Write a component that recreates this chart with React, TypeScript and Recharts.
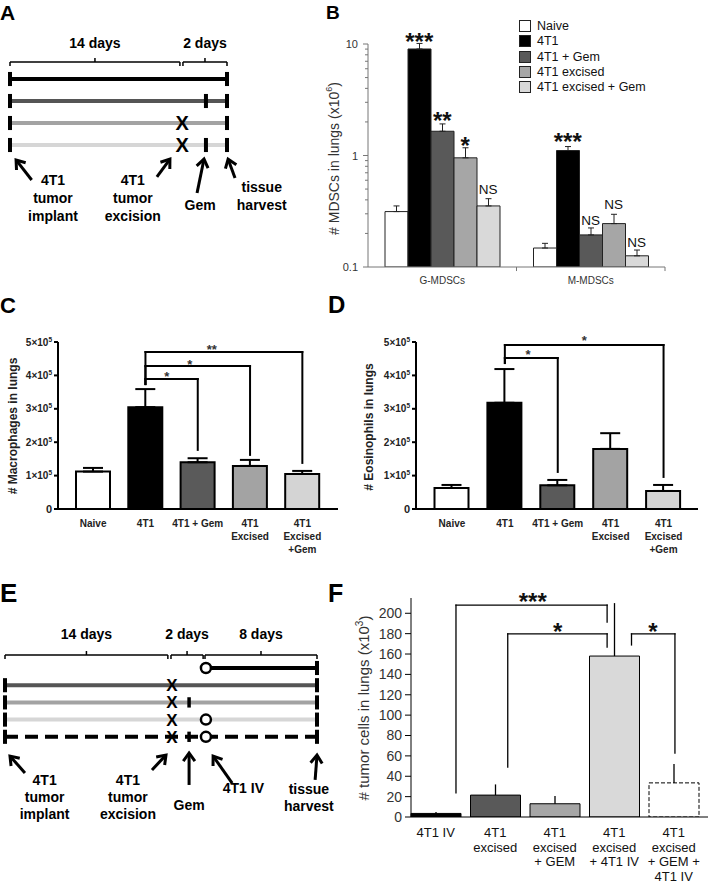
import React from 'react';
import { ComposedChart, Bar, XAxis, YAxis, ErrorBar, Cell, ReferenceLine, ReferenceDot, Legend } from 'recharts';

const FONT = '"Liberation Sans", Arial, Helvetica, sans-serif';

// ================= Panel A (treatment schematic) =================
const A_GROUPS = ['4T1', '4T1 + Gem', '4T1 excised', '4T1 excised + Gem'];
// position of each event along the drawn timeline (0 = implant, 100 = harvest)
const A_EVENT_POS: Record<string, number> = { implant: 0, excision: 79.3, gem: 90.3, harvest: 100 };
const A_GROUP_EVENTS = [
  ['implant', 'harvest'],
  ['implant', 'gem', 'harvest'],
  ['implant', 'excision', 'harvest'],
  ['implant', 'excision', 'gem', 'harvest'],
];
const A_SPANS = [
  { label: '14 days', from: 0, to: 78.3 },
  { label: '2 days', from: 79.7, to: 100 },
];
const A_NOTES = [
  { lines: ['4T1', 'tumor', 'implant'], at: 19.8, row: 5.82 },
  { lines: ['4T1', 'tumor', 'excision'], at: 56.6, row: 5.82 },
  { lines: ['Gem'], at: 87.6, row: 6.95 },
  { lines: ['tissue', 'harvest'], at: 116, row: 6.14 },
];
const A_ARROWS = [
  { from: [10.0, 5.59], to: [2.8, 4.68] },
  { from: [67.7, 5.45], to: [73.7, 4.64] },
  { from: [86.2, 6.18], to: [89.4, 4.64] },
  { from: [103.7, 5.5], to: [100.5, 4.64] },
];

// ================= Panel B =================
const B_CATEGORIES = ['G-MDSCs', 'M-MDSCs'];
const B_GROUPS = ['Naive', '4T1', '4T1 + Gem', '4T1 excised', '4T1 excised + Gem'];
const B_NAIVE = [0.314, 0.148];
const B_4T1 = [9.02, 1.108];
const B_4T1_GEM = [1.65, 0.194];
const B_EXCISED = [0.953, 0.245];
const B_EXCISED_GEM = [0.353, 0.126];
const B_NAIVE_ERR = [0.039, 0.015];
const B_4T1_ERR = [1.1, 0.095];
const B_4T1_GEM_ERR = [0.27, 0.03];
const B_EXCISED_ERR = [0.22, 0.052];
const B_EXCISED_GEM_ERR = [0.057, 0.016];
const B_TICKS = [0.1, 0.2, 0.3, 0.4, 0.5, 0.6, 0.7, 0.8, 0.9, 1, 2, 3, 4, 5, 6, 7, 8, 9, 10];
const B_MAJOR = [0.1, 1, 10];
const B_SIG = [
  { cat: 0, bar: 1, text: '***', y: 11.67 },
  { cat: 0, bar: 2, text: '**', y: 2.32 },
  { cat: 0, bar: 3, text: '*', y: 1.375 },
  { cat: 0, bar: 4, text: 'NS', y: 0.497 },
  { cat: 1, bar: 1, text: '***', y: 1.478 },
  { cat: 1, bar: 2, text: 'NS', y: 0.2655 },
  { cat: 1, bar: 3, text: 'NS', y: 0.365 },
  { cat: 1, bar: 4, text: 'NS', y: 0.167 },
];

// ================= Panel C =================
const C_KEYS = ['Naive', '4T1', '4T1 + Gem', '4T1 Excised', '4T1 Excised + Gem'];
const C_TICK_LINES = [['Naive'], ['4T1'], ['4T1 + Gem'], ['4T1', 'Excised'], ['4T1', 'Excised', '+Gem']];
const C_MEAN = [1.12e5, 3.05e5, 1.4e5, 1.29e5, 1.05e5];
const C_SEM = [0.11e5, 0.54e5, 0.12e5, 0.18e5, 0.09e5];
const C_BRACKETS = [
  { from: 1.5, to: 4.5, y: 4.7e5, fromEnd: 3.74e5, toEnd: 1.38e5, label: '**', labelAt: 2.77, labelY: 4.85e5 },
  { from: 1.5, to: 3.5, y: 4.28e5, fromEnd: 3.74e5, toEnd: 1.62e5, label: '*', labelAt: 2.35, labelY: 4.43e5 },
  { from: 1.5, to: 2.5, y: 3.89e5, fromEnd: 3.74e5, toEnd: 1.77e5, label: '*', labelAt: 1.91, labelY: 4.07e5 },
];

// ================= Panel D =================
const D_KEYS = C_KEYS;
const D_TICK_LINES = C_TICK_LINES;
const D_MEAN = [0.63e5, 3.18e5, 0.71e5, 1.8e5, 0.54e5];
const D_SEM = [0.09e5, 1.01e5, 0.16e5, 0.47e5, 0.18e5];
const D_BRACKETS = [
  { from: 1.5, to: 4.5, y: 4.91e5, fromEnd: 4.37e5, toEnd: 0.96e5, label: '*', labelAt: 3.0, labelY: 5.12e5 },
  { from: 1.5, to: 2.5, y: 4.52e5, fromEnd: 4.37e5, toEnd: 1.11e5, label: '*', labelAt: 1.94, labelY: 4.7e5 },
];
const CD_TICKS = [0, 1e5, 2e5, 3e5, 4e5, 5e5];

// ================= Panel E (schematic) =================
const E_GROUPS = ['4T1 IV', '4T1 excised', '4T1 excised + GEM', '4T1 excised + 4T1 IV', '4T1 excised + GEM + 4T1 IV'];
const E_EVENT_POS: Record<string, number> = { implant: 0, excision: 53.5, gem: 59.0, iv: 64.4, harvest: 100 };
const E_GROUP_EVENTS = [
  ['iv', 'harvest'],
  ['implant', 'excision', 'harvest'],
  ['implant', 'excision', 'gem', 'harvest'],
  ['implant', 'excision', 'iv', 'harvest'],
  ['implant', 'excision', 'gem', 'iv', 'harvest'],
];
const E_SPANS = [
  { label: '14 days', from: 0, to: 52.2 },
  { label: '2 days', from: 53.2, to: 63.5 },
  { label: '8 days', from: 64.1, to: 100 },
];
const E_NOTES = [
  { lines: ['4T1', 'tumor', 'implant'], at: 12.7, row: 6.8 },
  { lines: ['4T1', 'tumor', 'excision'], at: 39.4, row: 6.8 },
  { lines: ['Gem'], at: 59.0, row: 8.26 },
  { lines: ['4T1 IV'], at: 76.4, row: 7.27 },
  { lines: ['tissue', 'harvest'], at: 97.4, row: 7.33 },
];
const E_ARROWS = [
  { from: [6.4, 6.1], to: [1.6, 5.12] },
  { from: [47.1, 5.93], to: [51.6, 5.06] },
  { from: [59.0, 6.8], to: [59.0, 4.94] },
  { from: [72.8, 6.69], to: [66.7, 5.12] },
  { from: [99.4, 6.51], to: [100, 5.06] },
];

// ================= Panel F =================
const F_KEYS = ['4T1 IV', '4T1 excised', '4T1 excised + GEM', '4T1 excised + 4T1 IV', '4T1 excised + GEM + 4T1 IV'];
const F_TICK_LINES = [['4T1 IV'], ['4T1', 'excised'], ['4T1', 'excised', '+ GEM'], ['4T1', 'excised', '+ 4T1 IV'], ['4T1', 'excised', '+ GEM +', '4T1 IV']];
const F_MEAN = [3.5, 21.5, 13, 158, 33.5];
const F_SEM = [1.5, 10.5, 7.5, 52, 18.5];
const F_TICKS = [0, 20, 40, 60, 80, 100, 120, 140, 160, 180, 200];
const F_BRACKETS = [
  { from: 0.84, to: 3.38, y: 208.1, fromEnd: 23.6, toEnd: 191.4, label: '***', labelAt: 2.13, labelY: 217 },
  { from: 1.71, to: 3.38, y: 179.7, fromEnd: 49.1, toEnd: 166.9, label: '*', labelAt: 2.55, labelY: 187.5 },
  { from: 3.79, to: 4.52, y: 179.7, fromEnd: 168.9, toEnd: 62.8, label: '*', labelAt: 4.15, labelY: 187.5 },
];

// ================= Styles =================
const A_ROW_COLORS = ['#000000', '#555555', '#a3a3a3', '#d6d6d6'];
const E_ROW_COLORS = ['#000000', '#555555', '#a3a3a3', '#d6d6d6', '#000000'];
const E_ROW_DASH = [undefined, undefined, undefined, undefined, '13 7'];
const B_FILLS = ['#ffffff', '#000000', '#595959', '#a6a6a6', '#d9d9d9'];
const CD_FILLS = ['#ffffff', '#000000', '#5a5a5a', '#a3a3a3', '#d4d4d4'];
const F_FILLS = ['#000000', '#595959', '#a6a6a6', '#d9d9d9', '#ffffff'];

const PANEL_LETTERS = [
  { t: 'A', x: 0, y: 19.5, s: 21 },
  { t: 'B', x: 326, y: 18.5, s: 19 },
  { t: 'C', x: 0, y: 313, s: 22 },
  { t: 'D', x: 328, y: 313, s: 24 },
  { t: 'E', x: 0, y: 602, s: 26 },
  { t: 'F', x: 328, y: 602, s: 25 },
];

// ================= Helpers =================
const linesShape = (lines: string[], fs: number, lh: number, weight: any = 'bold') => (p: any) => (
  <text x={p.cx} y={p.cy} textAnchor="middle" fontFamily={FONT} fontSize={fs} fontWeight={weight} fill="#000">
    {lines.map((l, i) => (
      <tspan key={i} x={p.cx} dy={i === 0 ? 0 : lh}>{l}</tspan>
    ))}
  </text>
);

const xShape = (fs: number) => (p: any) => (
  <text x={p.cx} y={p.cy + fs * 0.358} textAnchor="middle" fontFamily={FONT} fontSize={fs} fontWeight="bold" fill="#000">X</text>
);

const sigShape = (txt: string, fs: number, weight: any, fill: string) => (p: any) => {
  const star = txt.indexOf('*') >= 0;
  return (
    <text x={p.cx} y={p.cy + fs * (star ? 0.575 : 0.358)} textAnchor="middle" fontFamily={FONT} fontSize={fs} fontWeight={weight} fill={fill}>
      {txt}
    </text>
  );
};

const arrowShape = (p: any) => {
  const { x1, y1, x2, y2 } = p;
  const ang = Math.atan2(y2 - y1, x2 - x1);
  const L = 10;
  const s = 0.62;
  const ax = x2 - L * Math.cos(ang - s);
  const ay = y2 - L * Math.sin(ang - s);
  const bx = x2 - L * Math.cos(ang + s);
  const by = y2 - L * Math.sin(ang + s);
  const ex = x2 - 1.5 * Math.cos(ang);
  const ey = y2 - 1.5 * Math.sin(ang);
  return (
    <g>
      <line x1={x1} y1={y1} x2={ex} y2={ey} stroke="#000" strokeWidth={3} />
      <polyline points={`${ax},${ay} ${x2},${y2} ${bx},${by}`} fill="none" stroke="#000" strokeWidth={3} strokeLinejoin="miter" />
    </g>
  );
};

const vLabel = (cx: number, cy: number, fs: number, weight: any, fill: string, content: React.ReactNode) => () => (
  <text x={cx} y={cy} transform={`rotate(-90 ${cx} ${cy})`} textAnchor="middle" dominantBaseline="central" fontFamily={FONT} fontSize={fs} fontWeight={weight} fill={fill}>
    {content}
  </text>
);

const linesTick = (keys: string[], lines: string[][], fs: number, weight: any, dy: number, lh: number, fill: string) => (p: any) => {
  const idx = keys.indexOf(p.payload.value);
  const ls = lines[idx] || [String(p.payload.value)];
  return (
    <text x={p.x} y={p.y + dy} textAnchor="middle" fontFamily={FONT} fontSize={fs} fontWeight={weight} fill={fill}>
      {ls.map((l, i) => (
        <tspan key={i} x={p.x} dy={i === 0 ? 0 : lh}>{l}</tspan>
      ))}
    </text>
  );
};

const SciTick = (p: any) => {
  const m = Math.round(p.payload.value / 1e5);
  return (
    <text x={p.x} y={p.y + 3.6} textAnchor="end" fontFamily={FONT} fontSize={m === 0 ? 11 : 10} fontWeight="bold" fill="#222">
      {m === 0 ? '0' : `${m}×10`}
      {m === 0 ? null : <tspan dy={-4} fontSize={6.5}>5</tspan>}
    </text>
  );
};

const BYTick = (p: any) => {
  const v = p.payload.value;
  const major = B_MAJOR.some((m) => Math.abs(m - v) < 1e-9);
  return (
    <g>
      <line x1={p.x} x2={p.x - (major ? 5 : 3)} y1={p.y} y2={p.y} stroke="#777" strokeWidth={1} />
      {major ? (
        <text x={p.x - 10} y={p.y + 4} textAnchor="end" fontFamily={FONT} fontSize={11} fill="#333">{String(v)}</text>
      ) : null}
    </g>
  );
};

function bracketEls(list: any[], sw: number, fs: number, weight: any, fill: string) {
  const out: React.ReactNode[] = [];
  list.forEach((b, i) => {
    const st = { stroke: '#000', strokeWidth: sw, strokeLinecap: 'square' as const, ifOverflow: 'visible' as const, xAxisId: 'n' };
    out.push(<ReferenceLine key={`bh${i}`} {...st} segment={[{ x: b.from, y: b.y }, { x: b.to, y: b.y }]} />);
    out.push(<ReferenceLine key={`bl${i}`} {...st} segment={[{ x: b.from, y: b.y }, { x: b.from, y: b.fromEnd }]} />);
    out.push(<ReferenceLine key={`br${i}`} {...st} segment={[{ x: b.to, y: b.y }, { x: b.to, y: b.toEnd }]} />);
    out.push(
      <ReferenceDot key={`bt${i}`} xAxisId="n" x={b.labelAt} y={b.labelY} ifOverflow="visible" shape={sigShape(b.label, fs, weight, fill)} />
    );
  });
  return out;
}

// ================= Schematic =================
function Schematic(p: {
  w: number; h: number; margin: any; yDomain: [number, number];
  groups: string[]; pos: Record<string, number>; events: string[][]; firstRow: number;
  colors: string[]; dashes: (string | undefined)[];
  tickHalf: number; gemHalf: number; gemWidth: number; xSize: number;
  spans: any[]; spanRows: { line: number; leg: number; tick: number; label: number };
  notes: any[]; arrows: any[]; lineH: number;
}) {
  const els: React.ReactNode[] = [];
  const RL = (key: string, a: number[], b: number[], extra: any) => (
    <ReferenceLine key={key} segment={[{ x: a[0], y: a[1] }, { x: b[0], y: b[1] }]} ifOverflow="visible" {...extra} />
  );
  const sr = p.spanRows;
  p.spans.forEach((s, i) => {
    const mid = (s.from + s.to) / 2;
    const st = { stroke: '#000', strokeWidth: 1.5 };
    els.push(RL(`sh${i}`, [s.from, sr.line], [s.to, sr.line], st));
    els.push(RL(`sl${i}`, [s.from, sr.line], [s.from, sr.leg], st));
    els.push(RL(`sr${i}`, [s.to, sr.line], [s.to, sr.leg], st));
    els.push(RL(`sm${i}`, [mid, sr.line], [mid, sr.tick], st));
    els.push(<ReferenceDot key={`st${i}`} x={mid} y={sr.label} ifOverflow="visible" shape={linesShape([s.label], 14, p.lineH)} />);
  });
  p.groups.forEach((g, k) => {
    const r = p.firstRow + k;
    const xs = p.events[k].map((e) => p.pos[e]);
    els.push(
      RL(`row${k}`, [Math.min(...xs), r], [Math.max(...xs), r], { stroke: p.colors[k], strokeWidth: 4, strokeDasharray: p.dashes[k] })
    );
  });
  p.groups.forEach((g, k) => {
    const r = p.firstRow + k;
    p.events[k].forEach((e, j) => {
      const x = p.pos[e];
      if (e === 'implant' || e === 'harvest') {
        els.push(RL(`t${k}_${j}`, [x, r - p.tickHalf], [x, r + p.tickHalf], { stroke: '#000', strokeWidth: 4 }));
      } else if (e === 'gem') {
        els.push(RL(`g${k}_${j}`, [x, r - p.gemHalf], [x, r + p.gemHalf], { stroke: '#000', strokeWidth: p.gemWidth }));
      } else if (e === 'excision') {
        els.push(<ReferenceDot key={`x${k}_${j}`} x={x} y={r} ifOverflow="visible" shape={xShape(p.xSize)} />);
      } else if (e === 'iv') {
        els.push(<ReferenceDot key={`c${k}_${j}`} x={x} y={r} r={5} fill="#fff" stroke="#000" strokeWidth={2.5} ifOverflow="visible" />);
      }
    });
  });
  p.arrows.forEach((a, i) => els.push(RL(`a${i}`, a.from, a.to, { stroke: '#000', strokeWidth: 3, shape: arrowShape })));
  p.notes.forEach((n, i) =>
    els.push(<ReferenceDot key={`n${i}`} x={n.at} y={n.row} ifOverflow="visible" shape={linesShape(n.lines, 14, p.lineH)} />)
  );
  return (
    <ComposedChart width={p.w} height={p.h} margin={p.margin}>
      <XAxis type="number" dataKey="x" domain={[0, 100]} hide allowDataOverflow />
      <YAxis type="number" dataKey="y" domain={p.yDomain} reversed hide allowDataOverflow />
      {els}
    </ComposedChart>
  );
}

function PanelA() {
  return (
    <Schematic
      w={300} h={240} margin={{ top: 0, right: 73, bottom: 0, left: 10 }} yDomain={[-2.591, 8.318]}
      groups={A_GROUPS} pos={A_EVENT_POS} events={A_GROUP_EVENTS} firstRow={1}
      colors={A_ROW_COLORS} dashes={[undefined, undefined, undefined, undefined]}
      tickHalf={0.32} gemHalf={0.32} gemWidth={4} xSize={20}
      spans={A_SPANS} spanRows={{ line: 0.227, leg: 0.41, tick: 0.045, label: -0.41 }}
      notes={A_NOTES} arrows={A_ARROWS} lineH={18}
    />
  );
}

function PanelE() {
  return (
    <Schematic
      w={350} h={300} margin={{ top: 0, right: 33, bottom: 0, left: 5 }} yDomain={[-7.442, 10.0]}
      groups={E_GROUPS} pos={E_EVENT_POS} events={E_GROUP_EVENTS} firstRow={0}
      colors={E_ROW_COLORS} dashes={E_ROW_DASH}
      tickHalf={0.41} gemHalf={0.3} gemWidth={3.5} xSize={17}
      spans={E_SPANS} spanRows={{ line: -0.756, leg: -0.52, tick: -0.99, label: -1.69 }}
      notes={E_NOTES} arrows={E_ARROWS} lineH={17}
    />
  );
}

// ================= Panel B =================
const B_W = 419;
const B_H = 300;
const B_MARGIN = { top: 44, right: 44, bottom: 13, left: 0 };
const B_YAXIS_W = 78;
const B_BAR = 23;
const B_BAND = (B_W - B_MARGIN.left - B_MARGIN.right - B_YAXIS_W) / B_CATEGORIES.length;
const bBarPos = (cat: number, bar: number) => cat + 0.5 + (bar - (B_GROUPS.length - 1) / 2) * (B_BAR / B_BAND);

const B_SERIES = [
  { key: 'naive', vals: B_NAIVE, errs: B_NAIVE_ERR },
  { key: 't4', vals: B_4T1, errs: B_4T1_ERR },
  { key: 'gem', vals: B_4T1_GEM, errs: B_4T1_GEM_ERR },
  { key: 'exc', vals: B_EXCISED, errs: B_EXCISED_ERR },
  { key: 'excGem', vals: B_EXCISED_GEM, errs: B_EXCISED_GEM_ERR },
];

const bData = B_CATEGORIES.map((cat, i) => {
  const row: any = { cat, pos: i + 0.5 };
  B_SERIES.forEach((s) => {
    row[s.key] = s.vals[i];
    row[s.key + 'Err'] = [0, s.errs[i]];
  });
  return row;
});

const BLegend = (props: any) => {
  const payload: any[] = props.payload || [];
  const ordered = B_GROUPS.map((g) => payload.find((e) => e.value === g)).filter(Boolean);
  return (
    <div style={{ fontFamily: FONT, fontSize: 12.5, color: '#111' }}>
      {ordered.map((e: any, i: number) => (
        <div key={i} style={{ display: 'flex', alignItems: 'center', height: 15.3, whiteSpace: 'nowrap' }}>
          <span style={{ display: 'inline-block', width: 10, height: 10, background: e.color, border: '1px solid #222', marginRight: 6 }} />
          <span>{e.value}</span>
        </div>
      ))}
    </div>
  );
};

function PanelB() {
  return (
    <ComposedChart width={B_W} height={B_H} data={bData} margin={B_MARGIN} barGap={0}>
      <XAxis
        dataKey="cat" type="category" height={20} interval={0} tickSize={0} tickMargin={0} tickLine={false}
        axisLine={{ stroke: '#777' }}
        tick={linesTick(B_CATEGORIES, B_CATEGORIES.map((c) => [c]), 10, 'normal', 16.5, 12, '#333')}
      />
      <XAxis xAxisId="n" type="number" dataKey="pos" domain={[0, B_CATEGORIES.length]} hide allowDataOverflow />
      <YAxis
        width={B_YAXIS_W} type="number" scale="log" domain={[0.1, 10]} ticks={B_TICKS} interval={0} allowDataOverflow
        axisLine={{ stroke: '#777' }} tickLine={false} tickSize={0} tickMargin={0} tick={BYTick}
        label={vLabel(44, 158.5, 14, 'normal', '#333', (
          <>
            {'# MDSCs in lungs (x10'}
            <tspan dy={-5} fontSize={9}>6</tspan>
            <tspan dy={5}>)</tspan>
          </>
        ))}
      />
      {B_SERIES.map((s, j) => (
        <Bar key={s.key} dataKey={s.key} name={B_GROUPS[j]} fill={B_FILLS[j]} stroke="#222" strokeWidth={1} barSize={B_BAR} isAnimationActive={false}>
          <ErrorBar dataKey={s.key + 'Err'} width={3} stroke="#222" strokeWidth={1} direction="y" isAnimationActive={false} />
        </Bar>
      ))}
      <Legend layout="vertical" align="center" verticalAlign="middle" content={BLegend} wrapperStyle={{ left: 229, top: 18.4, width: 'auto', height: 'auto' }} />
      {[1, 2].map((x) => (
        <ReferenceLine key={`bt${x}`} xAxisId="n" ifOverflow="visible" stroke="#777" strokeWidth={1} segment={[{ x, y: 0.1 }, { x, y: 0.092 }]} />
      ))}
      {B_SIG.map((s, i) => (
        <ReferenceDot
          key={`sig${i}`} xAxisId="n" x={bBarPos(s.cat, s.bar)} y={s.y} ifOverflow="visible"
          shape={s.text === 'NS' ? sigShape('NS', 13.5, 'normal', '#111') : sigShape(s.text, 24, 'bold', '#111')}
        />
      ))}
    </ComposedChart>
  );
}

// ================= Panels C & D =================
function CountPanel(p: {
  keys: string[]; lines: string[][]; mean: number[]; sem: number[]; brackets: any[];
  label: string; w: number; margin: any; yW: number; padding: any; labelX: number; labelY: number;
}) {
  const data = p.keys.map((k, i) => ({ key: k, pos: i + 0.5, v: p.mean[i], e: [0, p.sem[i]] }));
  return (
    <ComposedChart width={p.w} height={262} data={data} margin={p.margin}>
      <XAxis
        dataKey="key" type="category" padding={p.padding} height={20} interval={0} tickSize={0} tickMargin={0} tickLine={false}
        axisLine={{ stroke: '#000', strokeWidth: 2 }}
        tick={linesTick(p.keys, p.lines, 10, 'bold', 17.5, 13, '#222')}
      />
      <XAxis xAxisId="n" type="number" dataKey="pos" domain={[0, p.keys.length]} padding={p.padding} hide allowDataOverflow />
      <YAxis
        width={p.yW} type="number" domain={[0, 500000]} ticks={CD_TICKS} interval={0} allowDataOverflow
        axisLine={{ stroke: '#000', strokeWidth: 2 }} tickLine={{ stroke: '#000', strokeWidth: 2 }} tickSize={4} tickMargin={2}
        tick={SciTick}
        label={vLabel(p.labelX, p.labelY, 12, 'bold', '#222', p.label)}
      />
      <Bar dataKey="v" barSize={34} stroke="#000" strokeWidth={2} isAnimationActive={false}>
        {data.map((d, i) => (
          <Cell key={i} fill={CD_FILLS[i]} />
        ))}
        <ErrorBar dataKey="e" width={10} stroke="#000" strokeWidth={2} direction="y" isAnimationActive={false} />
      </Bar>
      {bracketEls(p.brackets, 2, 13, 'bold', '#333')}
    </ComposedChart>
  );
}

function PanelC() {
  return (
    <CountPanel
      keys={C_KEYS} lines={C_TICK_LINES} mean={C_MEAN} sem={C_SEM} brackets={C_BRACKETS}
      label="# Macrophages in lungs" w={355} margin={{ top: 42, right: 17, bottom: 33, left: 0 }} yW={58}
      padding={{ left: 9, right: 9.5 }} labelX={13} labelY={126}
    />
  );
}

function PanelD() {
  return (
    <CountPanel
      keys={D_KEYS} lines={D_TICK_LINES} mean={D_MEAN} sem={D_SEM} brackets={D_BRACKETS}
      label="# Eosinophils in lungs" w={354} margin={{ top: 42, right: 11, bottom: 33, left: 0 }} yW={61}
      padding={{ left: 9.5, right: 8 }} labelX={14} labelY={127}
    />
  );
}

// ================= Panel F =================
const F_PAD = { left: -5, right: 4.5 };

function PanelF() {
  const data = F_KEYS.map((k, i) => ({ key: k, pos: i + 0.5, v: F_MEAN[i], e: [0, F_SEM[i]] }));
  return (
    <ComposedChart width={359} height={344} data={data} margin={{ top: 58, right: 1, bottom: 37, left: 0 }}>
      <XAxis
        dataKey="key" type="category" padding={F_PAD} height={30} interval={0} tickSize={0} tickMargin={0} tickLine={false}
        axisLine={{ stroke: '#000' }}
        tick={linesTick(F_KEYS, F_TICK_LINES, 13, 'normal', 20, 14.6, '#111')}
      />
      <XAxis xAxisId="n" type="number" dataKey="pos" domain={[0, F_KEYS.length]} padding={F_PAD} hide allowDataOverflow />
      <YAxis
        width={61} type="number" domain={[0, 215]} ticks={F_TICKS} interval={0} allowDataOverflow
        axisLine={{ stroke: '#000' }} tickLine={{ stroke: '#000' }} tickSize={6} tickMargin={3}
        tick={{ fontSize: 14, fill: '#333', fontFamily: FONT }}
        label={vLabel(13.5, 168, 15, 'normal', '#333', (
          <>
            {'# tumor cells in lungs (x10'}
            <tspan dy={-5} fontSize={10}>3</tspan>
            <tspan dy={5}>)</tspan>
          </>
        ))}
      />
      <Bar dataKey="v" barSize={50} stroke="#000" strokeWidth={1} isAnimationActive={false}>
        {data.map((d, i) => (
          <Cell key={i} fill={F_FILLS[i]} strokeDasharray={i === 4 ? '4 2' : undefined} />
        ))}
        <ErrorBar dataKey="e" width={0} stroke="#000" strokeWidth={1.3} direction="y" isAnimationActive={false} />
      </Bar>
      {bracketEls(F_BRACKETS, 1.3, 24, 'bold', '#111')}
    </ComposedChart>
  );
}

export default function App() {
  return (
    <div style={{ position: 'absolute', left: 0, top: 0, width: 709, height: 884, background: '#fff', overflow: 'hidden', fontFamily: FONT }}>
      <div style={{ position: 'absolute', left: 0, top: 0 }}><PanelA /></div>
      <div style={{ position: 'absolute', left: 290, top: 0 }}><PanelB /></div>
      <div style={{ position: 'absolute', left: 0, top: 300 }}><PanelC /></div>
      <div style={{ position: 'absolute', left: 355, top: 300 }}><PanelD /></div>
      <div style={{ position: 'absolute', left: 0, top: 540 }}><PanelE /></div>
      <div style={{ position: 'absolute', left: 350, top: 540 }}><PanelF /></div>
      <svg width={709} height={884} style={{ position: 'absolute', left: 0, top: 0, pointerEvents: 'none' }}>
        {PANEL_LETTERS.map((l) => (
          <text key={l.t} x={l.x} y={l.y} fontFamily={FONT} fontSize={l.s} fontWeight="bold" fill="#000">{l.t}</text>
        ))}
      </svg>
    </div>
  );
}
